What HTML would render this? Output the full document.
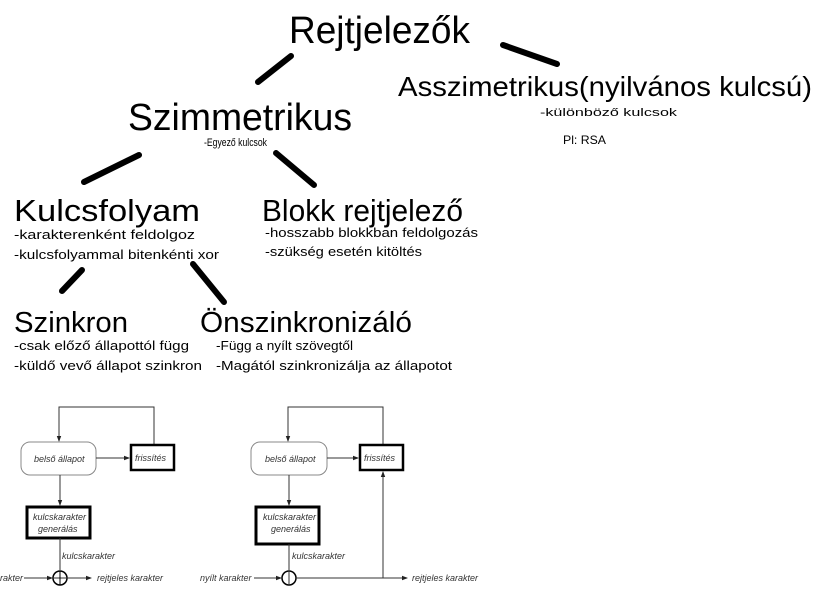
<!DOCTYPE html>
<html><head><meta charset="utf-8"><style>html,body{margin:0;padding:0;background:#fff}svg{display:block}</style></head>
<body>
<svg width="828" height="608" viewBox="0 0 828 608" xmlns="http://www.w3.org/2000/svg" font-family="Liberation Sans, DejaVu Sans, sans-serif">
<defs><marker id="a" markerWidth="6" markerHeight="6" refX="5" refY="3" orient="auto"><path d="M0,0.8 L6,3 L0,5.2z" fill="#222"/></marker></defs>
<g stroke="#000" stroke-width="6" stroke-linecap="round">
<line x1="258" y1="82" x2="291" y2="56"/>
<line x1="503" y1="45" x2="557" y2="64"/>
<line x1="84" y1="182" x2="139" y2="155"/>
<line x1="276" y1="153" x2="314" y2="185"/>
<line x1="62" y1="291" x2="82" y2="270"/>
<line x1="193" y1="264" x2="224" y2="302"/>
</g>
<g fill="#000">
<text x="289" y="43" font-size="38" textLength="181" lengthAdjust="spacingAndGlyphs">Rejtjelezők</text>
<text x="398" y="96" font-size="28" textLength="414" lengthAdjust="spacingAndGlyphs">Asszimetrikus(nyilvános kulcsú)</text>
<text x="540" y="116" font-size="11" textLength="137" lengthAdjust="spacingAndGlyphs">-különböző kulcsok</text>
<text x="563" y="144" font-size="12" textLength="43" lengthAdjust="spacingAndGlyphs">Pl: RSA</text>
<text x="128" y="130" font-size="38" textLength="224" lengthAdjust="spacingAndGlyphs">Szimmetrikus</text>
<text x="204" y="146" font-size="11" textLength="63" lengthAdjust="spacingAndGlyphs">-Egyező kulcsok</text>
<text x="14" y="221" font-size="31" textLength="186" lengthAdjust="spacingAndGlyphs">Kulcsfolyam</text>
<text x="14" y="239" font-size="13" textLength="181" lengthAdjust="spacingAndGlyphs">-karakterenként feldolgoz</text>
<text x="14" y="259" font-size="13" textLength="205" lengthAdjust="spacingAndGlyphs">-kulcsfolyammal bitenkénti xor</text>
<text x="262" y="221" font-size="31" textLength="201" lengthAdjust="spacingAndGlyphs">Blokk rejtjelező</text>
<text x="265" y="237" font-size="13" textLength="213" lengthAdjust="spacingAndGlyphs">-hosszabb blokkban feldolgozás</text>
<text x="265" y="256" font-size="13" textLength="157" lengthAdjust="spacingAndGlyphs">-szükség esetén kitöltés</text>
<text x="14" y="332" font-size="29" textLength="114" lengthAdjust="spacingAndGlyphs">Szinkron</text>
<text x="14" y="350" font-size="13" textLength="175" lengthAdjust="spacingAndGlyphs">-csak előző állapottól függ</text>
<text x="14" y="370" font-size="13" textLength="188" lengthAdjust="spacingAndGlyphs">-küldő vevő állapot szinkron</text>
<text x="200" y="332" font-size="29" textLength="212" lengthAdjust="spacingAndGlyphs">Önszinkronizáló</text>
<text x="216" y="350" font-size="13" textLength="137" lengthAdjust="spacingAndGlyphs">-Függ a nyílt szövegtől</text>
<text x="216" y="370" font-size="13" textLength="236" lengthAdjust="spacingAndGlyphs">-Magától szinkronizálja az állapotot</text>
</g>
<g stroke="#333" stroke-width="1" fill="none">
<!-- left diagram -->
<polyline points="154,444 154,407 59,407 59,441" marker-end="url(#a)"/>
<rect x="21" y="442" width="75" height="33" rx="9" stroke="#888"/>
<line x1="96" y1="458" x2="129" y2="458" marker-end="url(#a)"/>
<rect x="131" y="445" width="43" height="25" stroke="#000" stroke-width="2.5"/>
<line x1="60" y1="475" x2="60" y2="505" marker-end="url(#a)"/>
<rect x="27" y="507" width="63" height="31" stroke="#000" stroke-width="3"/>
<line x1="60" y1="538" x2="60" y2="570"/>
<circle cx="60" cy="578" r="7" stroke="#000" stroke-width="1.5"/>
<line x1="53" y1="578" x2="67" y2="578"/>
<line x1="24" y1="578" x2="52" y2="578" marker-end="url(#a)"/>
<line x1="67" y1="578" x2="91" y2="578" marker-end="url(#a)"/>
<!-- right diagram -->
<polyline points="383,444 383,407 288,407 288,441" marker-end="url(#a)"/>
<rect x="251" y="442" width="76" height="33" rx="9" stroke="#888"/>
<line x1="327" y1="458" x2="358" y2="458" marker-end="url(#a)"/>
<rect x="360" y="445" width="43" height="25" stroke="#000" stroke-width="2.5"/>
<line x1="289" y1="475" x2="289" y2="505" marker-end="url(#a)"/>
<rect x="256" y="507" width="63" height="37" stroke="#000" stroke-width="3"/>
<line x1="289" y1="544" x2="289" y2="570"/>
<circle cx="289" cy="578" r="7" stroke="#000" stroke-width="1.5"/>
<line x1="289" y1="571" x2="289" y2="585"/>
<line x1="254" y1="578" x2="281" y2="578" marker-end="url(#a)"/>
<line x1="296" y1="578" x2="407" y2="578" marker-end="url(#a)"/>
<line x1="383" y1="578" x2="383" y2="472" marker-end="url(#a)"/>
</g>
<line x1="60" y1="571" x2="60" y2="585" stroke="#000" stroke-width="1"/>
<g fill="#333" font-style="italic" font-size="9">
<text x="34" y="462">belső állapot</text>
<text x="135" y="461">frissítés</text>
<text x="33" y="520">kulcskarakter</text>
<text x="38" y="532">generálás</text>
<text x="62" y="559">kulcskarakter</text>
<text x="0" y="581">rakter</text>
<text x="97" y="581">rejtjeles karakter</text>
<text x="265" y="462">belső állapot</text>
<text x="364" y="461">frissítés</text>
<text x="263" y="520">kulcskarakter</text>
<text x="271" y="532">generálás</text>
<text x="292" y="559">kulcskarakter</text>
<text x="200" y="581">nyílt karakter</text>
<text x="412" y="581">rejtjeles karakter</text>
</g>
</svg>
</body></html>
